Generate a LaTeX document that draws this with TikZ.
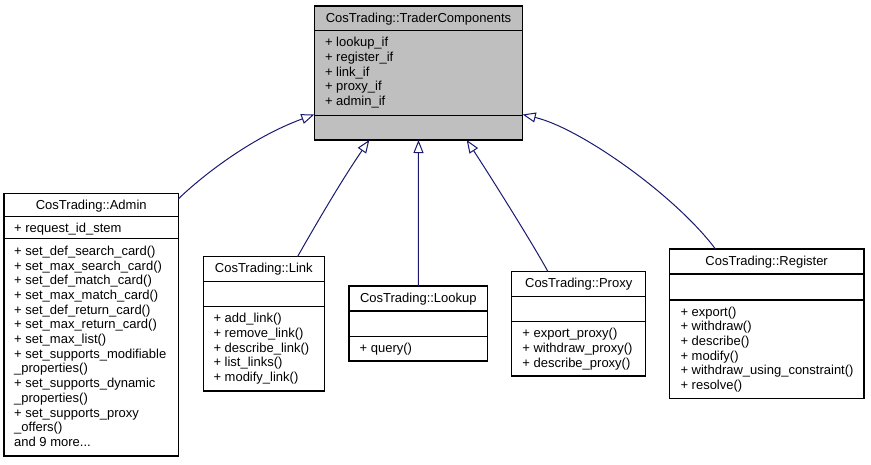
\documentclass[tikz,border=0pt]{standalone}
\usepackage{fontspec}
\setmainfont{Liberation Sans}
\usetikzlibrary{arrows.meta,calc}
\definecolor{edgeblue}{RGB}{25,25,112}
\definecolor{boxgray}{RGB}{191,191,191}
\begin{document}
\begin{tikzpicture}[x=1pt,y=-1pt,
  umlbox/.style={draw=black,line width=1.1pt,rectangle,inner sep=0pt,outer sep=0pt,fill=white},
  sepline/.style={draw=black,line width=1.1pt},
  title/.style={anchor=base,inner sep=0pt,font=\fontsize{13}{14.7}\selectfont},
  member/.style={anchor=base west,inner sep=0pt,align=left,font=\fontsize{13}{14.7}\selectfont},
  inherit/.style={draw=edgeblue,line width=1pt,-{Triangle[length=13pt,width=10pt,fill=white]}}]
\useasboundingbox (0,0) rectangle (871,464);

% ---- base class
\node[umlbox,fill=boxgray,minimum width=208.4pt,minimum height=134pt] (tc) at (418.5,73) {};
\draw[sepline] ($(tc.north west)+(0,24.7)$) -- ($(tc.north east)+(0,24.7)$);
\draw[sepline] ($(tc.north west)+(0,109.7)$) -- ($(tc.north east)+(0,109.7)$);
\node[title] (tct) at ($(tc.north)+(0,16)$) {CosTrading::TraderComponents};
% base anchor of a multi-line node = baseline of its last line
\node[member] (tca) at ($(tc.north west)+(10.5,99.5)$) {+ lookup\_if\\+ register\_if\\+ link\_if\\+ proxy\_if\\+ admin\_if};

% ---- Admin
\node[umlbox,minimum width=174.5pt,minimum height=262.7pt] (admin) at (91.25,324.65) {};
\draw[sepline] ($(admin.north west)+(0,23.3)$) -- ($(admin.north east)+(0,23.3)$);
\draw[sepline] ($(admin.north west)+(0,45.2)$) -- ($(admin.north east)+(0,45.2)$);
\node[title] (admint) at ($(admin.north)+(0,16)$) {CosTrading::Admin};
\node[member] (admina) at ($(admin.north west)+(10,39)$) {+ request\_id\_stem};
\node[member] (adminm) at ($(admin.north west)+(10,253.1)$) {+ set\_def\_search\_card()\\+ set\_max\_search\_card()\\+ set\_def\_match\_card()\\+ set\_max\_match\_card()\\+ set\_def\_return\_card()\\+ set\_max\_return\_card()\\+ set\_max\_list()\\+ set\_supports\_modifiable\\\_properties()\\+ set\_supports\_dynamic\\\_properties()\\+ set\_supports\_proxy\\\_offers()\\and 9 more...};

% ---- Link
\node[umlbox,minimum width=121pt,minimum height=134.3pt] (link) at (263.8,323.85) {};
\draw[sepline] ($(link.north west)+(0,25)$) -- ($(link.north east)+(0,25)$);
\draw[sepline] ($(link.north west)+(0,50)$) -- ($(link.north east)+(0,50)$);
\node[title] (linkt) at ($(link.north)+(0,16)$) {CosTrading::Link};
\node[member] (linkm) at ($(link.north west)+(10,124.8)$) {+ add\_link()\\+ remove\_link()\\+ describe\_link()\\+ list\_links()\\+ modify\_link()};

% ---- Lookup
\node[umlbox,minimum width=138.7pt,minimum height=75pt] (lookup) at (418.35,323.5) {};
\draw[sepline] ($(lookup.north west)+(0,25)$) -- ($(lookup.north east)+(0,25)$);
\draw[sepline] ($(lookup.north west)+(0,50.7)$) -- ($(lookup.north east)+(0,50.7)$);
\node[title] (lookupt) at ($(lookup.north)+(0,16)$) {CosTrading::Lookup};
\node[member] (lookupm) at ($(lookup.north west)+(10.5,66.7)$) {+ query()};

% ---- Proxy
\node[umlbox,minimum width=134pt,minimum height=104.3pt] (proxy) at (578.7,323.85) {};
\draw[sepline] ($(proxy.north west)+(0,25)$) -- ($(proxy.north east)+(0,25)$);
\draw[sepline] ($(proxy.north west)+(0,50)$) -- ($(proxy.north east)+(0,50)$);
\node[title] (proxyt) at ($(proxy.north)+(0,16)$) {CosTrading::Proxy};
\node[member] (proxym) at ($(proxy.north west)+(10.5,95.4)$) {+ export\_proxy()\\+ withdraw\_proxy()\\+ describe\_proxy()};

% ---- Register
\node[umlbox,minimum width=194.7pt,minimum height=149.3pt] (register) at (766.65,323.65) {};
\draw[sepline] ($(register.north west)+(0,25)$) -- ($(register.north east)+(0,25)$);
\draw[sepline] ($(register.north west)+(0,51)$) -- ($(register.north east)+(0,51)$);
\node[title] (registert) at ($(register.north)+(0,16)$) {CosTrading::Register};
\node[member] (registerm) at ($(register.north west)+(11,140.5)$) {+ export()\\+ withdraw()\\+ describe()\\+ modify()\\+ withdraw\_using\_constraint()\\+ resolve()};

% ---- inheritance connectors
\draw[inherit] ($(admin.north east)+(0,5.5)$) .. controls +(21.5,-21) and +(-64.3,23.5) .. ($(tc.south west)+(0,-25.5)$);
\draw[inherit] ($(link.north)+(33.7,0)$) .. controls +(13.5,-23.7) and +(-29.3,42.5) .. ($(tc.south)+(-49.2,0)$);
\draw[inherit] (lookup.north) -- (tc.south);
\draw[inherit] ($(proxy.north)+(-30.7,0)$) .. controls +(-13,-24) and +(28,43) .. ($(tc.south)+(48.2,0)$);
\draw[inherit] ($(register.north)+(-51.2,0)$) .. controls +(-40.5,-54) and +(57.3,13.5) .. ($(tc.south east)+(0,-25.5)$);
\end{tikzpicture}
\end{document}
